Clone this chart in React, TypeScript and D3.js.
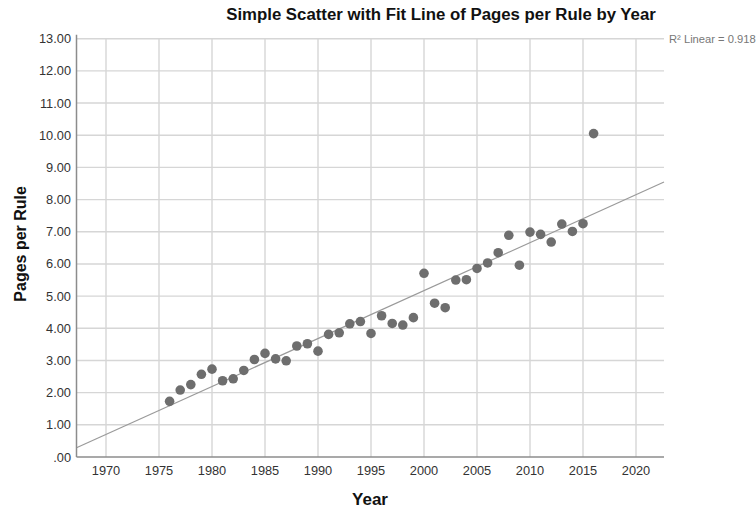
import React from "react";
import * as d3 from "d3";

const years = [1976,1977,1978,1979,1980,1981,1982,1983,1984,1985,1986,1987,1988,1989,1990,1991,1992,1993,1994,1995,1996,1997,1998,1999,2000,2001,2002,2003,2004,2005,2006,2007,2008,2009,2010,2011,2012,2013,2014,2015,2016];
const pagesPerRule = [1.73,2.08,2.25,2.57,2.73,2.37,2.43,2.69,3.03,3.22,3.05,2.99,3.45,3.52,3.29,3.81,3.86,4.14,4.21,3.84,4.39,4.15,4.10,4.33,5.71,4.78,4.64,5.50,5.51,5.86,6.03,6.35,6.89,5.96,6.99,6.92,6.68,7.24,7.01,7.25,10.05];
const xTicks = [1970,1975,1980,1985,1990,1995,2000,2005,2010,2015,2020];
const yTicks = [0,1,2,3,4,5,6,7,8,9,10,11,12,13];
const titleText = "Simple Scatter with Fit Line of Pages per Rule by Year";
const xLabel = "Year";
const yLabel = "Pages per Rule";
const r2Label = "R² Linear = 0.918";

export default function App() {
  const W = 756, H = 510;
  const left = 76.5, right = 664, top = 38.7, bottom = 457;
  const x = d3.scaleLinear().domain([1970, 2020]).range([106, 636]);
  const y = d3.scaleLinear().domain([0, 13]).range([bottom, top]);
  const xMin = x.invert(left), xMax = x.invert(right);

  const mx = d3.mean(years)!, my = d3.mean(pagesPerRule)!;
  let sxy = 0, sxx = 0;
  years.forEach((yr, i) => { sxy += (yr - mx) * (pagesPerRule[i] - my); sxx += (yr - mx) ** 2; });
  const slope = sxy / sxx, icpt = my - slope * mx;
  const fit = (v: number) => icpt + slope * v;
  const line = d3.line<number>().x(d => x(d)).y(d => y(fit(d)));

  const font = "'Liberation Sans', Arial, sans-serif";
  return (
    <svg width={W} height={H} style={{ position: "absolute", left: 0, top: 0 }} fontFamily={font}>
      <rect width={W} height={H} fill="#fff" />
      <text x={441} y={20} textAnchor="middle" fontSize={16.8} fontWeight="bold" fill="#111">{titleText}</text>
      {yTicks.filter(t => t > 0).map(t => (
        <line key={"hy" + t} x1={left} x2={right} y1={y(t)} y2={y(t)} stroke="#d6d6d6" strokeWidth={1.4} />
      ))}
      {xTicks.map(t => (
        <line key={"vx" + t} x1={x(t)} x2={x(t)} y1={top} y2={bottom} stroke="#d6d6d6" strokeWidth={1.4} />
      ))}
      <path d={line([xMin, xMax]) || ""} stroke="#9a9a9a" strokeWidth={1.2} fill="none" />
      {years.map((yr, i) => (
        <circle key={yr} cx={x(yr)} cy={y(pagesPerRule[i])} r={4.8} fill="#6e6e6e" />
      ))}
      <line x1={left} x2={left} y1={top - 4} y2={bottom} stroke="#8c8c8c" strokeWidth={1.5} />
      <line x1={left} x2={right} y1={bottom} y2={bottom} stroke="#8c8c8c" strokeWidth={1.5} />
      {yTicks.map(t => (
        <text key={"yl" + t} x={71} y={y(t) + 4.5} textAnchor="end" fontSize={12.8} fill="#333">
          {t === 0 ? ".00" : t.toFixed(2)}
        </text>
      ))}
      {xTicks.map(t => (
        <text key={"xl" + t} x={x(t)} y={475} textAnchor="middle" fontSize={12.8} fill="#333">{t}</text>
      ))}
      <text x={669} y={43} fontSize={11.2} fill="#777">{r2Label}</text>
      <text x={370} y={505} textAnchor="middle" fontSize={17} fontWeight="bold" fill="#111">{xLabel}</text>
      <text transform={`translate(26,${(top + bottom) / 2 - 4}) rotate(-90)`} textAnchor="middle" fontSize={16} fontWeight="bold" fill="#111">{yLabel}</text>
    </svg>
  );
}
